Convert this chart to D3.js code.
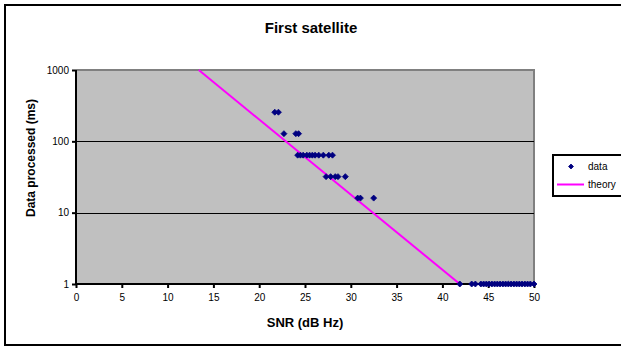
<!DOCTYPE html>
<html>
<head>
<meta charset="utf-8">
<script src="https://cdn.jsdelivr.net/npm/d3@7"></script>
<style>
  html, body { margin: 0; padding: 0; background: #fff; overflow: hidden; }
  svg { display: block; font-family: "Liberation Sans", Arial, sans-serif; }
</style>
</head>
<body>
<svg id="chart" width="621" height="348"></svg>
<script>
// ---- data ----
const title = "First satellite";
const xTitle = "SNR (dB Hz)";
const yTitle = "Data processed (ms)";
const xTicks = [0, 5, 10, 15, 20, 25, 30, 35, 40, 45, 50];
const yTicks = [1, 10, 100, 1000];
const seriesNames = ["data", "theory"];

const dataSNR = [
  21.7, 22.1,
  22.7, 24.0, 24.3,
  24.2, 24.5, 24.8, 25.2, 25.5, 25.8, 26.1, 26.5, 27.0, 27.6, 28.0,
  27.3, 27.8, 28.3, 28.6, 29.4,
  30.75, 31.05, 32.5,
  41.9, 43.2, 43.6, 44.2, 44.5, 44.8, 45.1, 45.4, 45.7, 46.0, 46.3, 46.6,
  46.9, 47.2, 47.5, 47.8, 48.1, 48.4, 48.7, 49.0, 49.3, 49.6, 50.0
];
const dataMs = [
  256, 256,
  128, 128, 128,
  64, 64, 64, 64, 64, 64, 64, 64, 64, 64, 64,
  32, 32, 32, 32, 32,
  16, 16, 16,
  1, 1, 1, 1, 1, 1, 1, 1, 1, 1, 1, 1,
  1, 1, 1, 1, 1, 1, 1, 1, 1, 1, 1
];
const theorySNR = [13.4, 41.9];
const theoryMs = [1000, 1];

// ---- layout ----
const svg = d3.select("#chart");
const plot = { left: 76, right: 534, top: 70, bottom: 284 };

const x = d3.scaleLinear().domain([0, 50]).range([plot.left, plot.right]);
const y = d3.scaleLog().domain([1, 1000]).range([plot.bottom, plot.top]);

// outer frame
svg.append("rect")
  .attr("x", 5).attr("y", 5).attr("width", 630).attr("height", 340)
  .attr("fill", "#fff").attr("stroke", "#000").attr("stroke-width", 2);

// plot background
svg.append("rect")
  .attr("x", plot.left).attr("y", plot.top)
  .attr("width", plot.right - plot.left).attr("height", plot.bottom - plot.top)
  .attr("fill", "#C0C0C0");

// top & right border (gray)
svg.append("path")
  .attr("d", `M${plot.left},${plot.top}H${plot.right}V${plot.bottom}`)
  .attr("fill", "none").attr("stroke", "#808080").attr("stroke-width", 2);

// gridlines
svg.append("g").selectAll("line")
  .data(yTicks.filter(d => d > 1 && d < 1000))
  .join("line")
  .attr("x1", plot.left).attr("x2", plot.right)
  .attr("y1", d => Math.round(y(d)) + 0.5).attr("y2", d => Math.round(y(d)) + 0.5)
  .attr("stroke", "#000").attr("stroke-width", 1);

// axes
const xAxis = d3.axisBottom(x).tickValues(xTicks).tickSize(4).tickPadding(6).tickFormat(d3.format("d"));
const yAxis = d3.axisLeft(y).tickValues(yTicks).tickSize(4).tickPadding(3).tickFormat(d3.format("d"));

const gx = svg.append("g").attr("transform", `translate(0,${plot.bottom})`).call(xAxis);
const gy = svg.append("g").attr("transform", `translate(${plot.left},0)`).call(yAxis);
[gx, gy].forEach(g => {
  g.select(".domain").attr("stroke", "#000").attr("stroke-width", 2);
  g.selectAll(".tick line").attr("stroke", "#000").attr("stroke-width", 2);
  g.selectAll("text").attr("fill", "#000").attr("font-size", 10)
    .attr("font-family", "'Liberation Sans', Arial, sans-serif");
});
gx.select(".domain").attr("d", `M${plot.left},0H${plot.right}`);
gy.select(".domain").attr("d", `M0,${plot.bottom}V${plot.top}`);

// theory line
const line = d3.line().x(d => x(d[0])).y(d => y(d[1]));
svg.append("path")
  .datum(theorySNR.map((s, i) => [s, theoryMs[i]]))
  .attr("d", line)
  .attr("fill", "none").attr("stroke", "#FF00FF").attr("stroke-width", 2);

// data markers
const diamond = (cx, cy, r) => `M${cx},${cy - r}L${cx + r},${cy}L${cx},${cy + r}L${cx - r},${cy}Z`;
svg.append("g").selectAll("path")
  .data(dataSNR.map((s, i) => [s, dataMs[i]]))
  .join("path")
  .attr("d", d => diamond(x(d[0]), y(d[1]), 3))
  .attr("fill", "#000080").attr("stroke", "#000080").attr("stroke-width", 0.8);

// titles
svg.append("text").attr("x", 311).attr("y", 33).attr("text-anchor", "middle")
  .attr("font-size", 15).attr("font-weight", "bold").text(title);
svg.append("text").attr("x", 305).attr("y", 327).attr("text-anchor", "middle")
  .attr("font-size", 13).attr("font-weight", "bold").text(xTitle);
svg.append("text").attr("transform", "translate(35,158) rotate(-90)").attr("text-anchor", "middle")
  .attr("font-size", 12).attr("font-weight", "bold").text(yTitle);

// legend
const lg = svg.append("g");
lg.append("rect").attr("x", 553).attr("y", 155).attr("width", 80).attr("height", 41)
  .attr("fill", "#fff").attr("stroke", "#000").attr("stroke-width", 2);
lg.append("path").attr("d", diamond(571, 166.5, 2.5))
  .attr("fill", "#000080").attr("stroke", "#000080").attr("stroke-width", 0.8);
lg.append("line").attr("x1", 557).attr("x2", 584).attr("y1", 184.5).attr("y2", 184.5)
  .attr("stroke", "#FF00FF").attr("stroke-width", 2);
lg.selectAll("text.leg").data(seriesNames).join("text")
  .attr("class", "leg")
  .attr("x", 588).attr("y", (d, i) => 170 + i * 18)
  .attr("font-size", 10).text(d => d);
</script>
</body>
</html>
